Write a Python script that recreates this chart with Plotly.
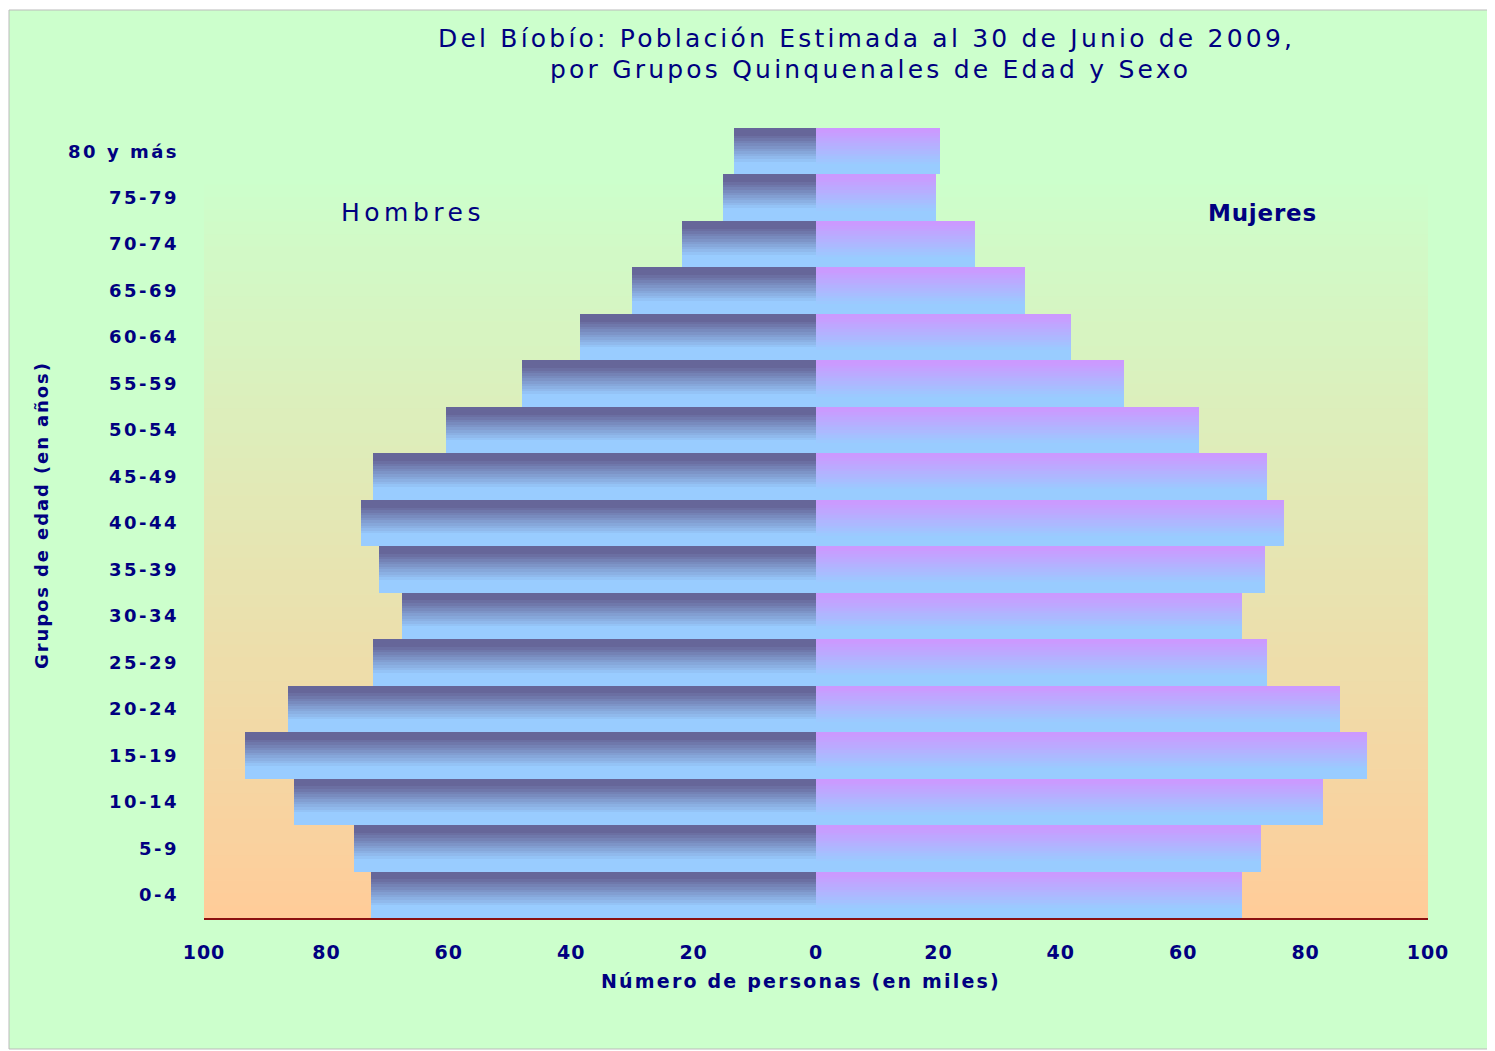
import plotly.graph_objects as go

# ---- data (thousands of persons) ----
grupos = ["0-4", "5-9", "10-14", "15-19", "20-24", "25-29", "30-34", "35-39",
          "40-44", "45-49", "50-54", "55-59", "60-64", "65-69", "70-74", "75-79", "80 y más"]
hombres = [72.7, 75.5, 85.3, 93.3, 86.3, 72.4, 67.6, 71.4, 74.3, 72.4, 60.5, 48.0, 38.6, 30.1, 21.9, 15.2, 13.4]
mujeres = [69.6, 72.7, 82.8, 90.0, 85.6, 73.7, 69.6, 73.4, 76.5, 73.7, 62.6, 50.3, 41.7, 34.2, 26.0, 19.6, 20.3]
x_ticks = [-100, -80, -60, -40, -20, 0, 20, 40, 60, 80, 100]
x_ticktext = ["100", "80", "60", "40", "20", "0", "20", "40", "60", "80", "100"]

TITLE_1 = "Del Bíobío: Población Estimada al 30 de Junio de 2009,"
TITLE_2 = "por Grupos Quinquenales de Edad y Sexo"
NAVY = "#000080"
FONT = "DejaVu Sans"


def spaced(txt, px):
    return "<span style='letter-spacing:%spx'>%s</span>" % (px, txt)


def lerp(c1, c2, t):
    t = max(0.0, min(1.0, t))
    return "rgb(%d,%d,%d)" % tuple(round(a + (b - a) * t) for a, b in zip(c1, c2))


def ramp(c_top, c_bot, s, s0, s1):
    return lerp(c_top, c_bot, (s - s0) / (s1 - s0))


MEN_TOP, MEN_BOT = (102, 102, 153), (153, 204, 255)
WOM_TOP, WOM_BOT = (204, 153, 255), (153, 204, 255)

fig = go.Figure()

N = 18  # horizontal strips per bar to emulate the vertical gradient
for k in range(N):
    s = 1 - (k + 0.5) / N  # 0 = top of bar, 1 = bottom
    off = -0.5 + k / N
    fig.add_trace(go.Bar(
        y=grupos, x=[-v for v in hombres], orientation="h", base=0,
        offset=off, width=1.0 / N,
        marker=dict(color=ramp(MEN_TOP, MEN_BOT, s, 0.14, 0.75), line=dict(width=0)),
        showlegend=False, hoverinfo="skip"))
    fig.add_trace(go.Bar(
        y=grupos, x=mujeres, orientation="h", base=0,
        offset=off, width=1.0 / N,
        marker=dict(color=ramp(WOM_TOP, WOM_BOT, s, 0.05, 0.8), line=dict(width=0)),
        showlegend=False, hoverinfo="skip"))

# ---- decoration ----
PW, PH = 1224, 790   # plot area size in px
L0, T0 = 204, 128    # plot area origin in reference px


def px(xp):
    return (xp - L0) / PW


def py(yp):
    return (T0 + PH - yp) / PH


shapes = [dict(type="rect", xref="paper", yref="paper",
               x0=px(9), x1=px(1493), y0=py(1049), y1=py(10),
               fillcolor="#CCFFCC", line=dict(color="#BBBBBB", width=1), layer="below")]
BG_TOP, BG_BOT = (204, 255, 204), (255, 204, 153)
top_y = py(172)
M = 60
for i in range(M):
    y0 = top_y * i / M
    y1 = min(top_y * (i + 1) / M + 0.001, top_y)
    t = (i + 0.5) / M  # 0 bottom -> 1 top
    shapes.append(dict(type="rect", xref="x domain", yref="paper", x0=0, x1=1, y0=y0, y1=y1,
                       fillcolor=lerp(BG_BOT, BG_TOP, t), line=dict(width=0), layer="below"))


def ann(text, x, y, size, angle=0):
    return dict(text=text, xref="paper", yref="paper", x=px(x), y=py(y), textangle=angle,
                xanchor="center", yanchor="middle", showarrow=False,
                font=dict(family=FONT, size=size, color=NAVY))


annotations = [
    ann(spaced(TITLE_1, 3.2), 866, 38, 25),
    ann(spaced(TITLE_2, 3.2), 870, 69, 25),
    ann(spaced("Hombres", 4.5), 413, 212, 25),
    ann("<b>" + spaced("Mujeres", 0.8) + "</b>", 1262, 213, 23),
    ann("<b>" + spaced("Número de personas (en miles)", 2.2) + "</b>", 801, 981, 19),
    ann("<b>" + spaced("Grupos de edad (en años)", 1.9) + "</b>", 42, 515, 18, -90),
]

fig.update_layout(
    width=1487, height=1043,
    margin=dict(l=196, r=67, t=120, b=133, autoexpand=False),
    paper_bgcolor="white", plot_bgcolor="rgba(0,0,0,0)",
    barmode="overlay", bargap=0,
    shapes=shapes, annotations=annotations,
    xaxis=dict(range=[-100, 100], tickvals=x_ticks, ticktext=[spaced(t, 1) for t in x_ticktext],
               showgrid=False, zeroline=False, ticks="",
               showline=True, linecolor="#8B1010", linewidth=2,
               ticklabelstandoff=16,
               tickfont=dict(family=FONT, size=19, color=NAVY, weight="bold")),
    yaxis=dict(type="category", categoryorder="array", categoryarray=grupos,
               tickvals=grupos, ticktext=[spaced(g, 2.5) for g in grupos],
               range=[-0.5, 16.5], showgrid=False, zeroline=False, ticks="",
               showline=False, ticklabelstandoff=24,
               tickfont=dict(family=FONT, size=18, color=NAVY, weight="bold")),
)

fig.write_html("out.html")
